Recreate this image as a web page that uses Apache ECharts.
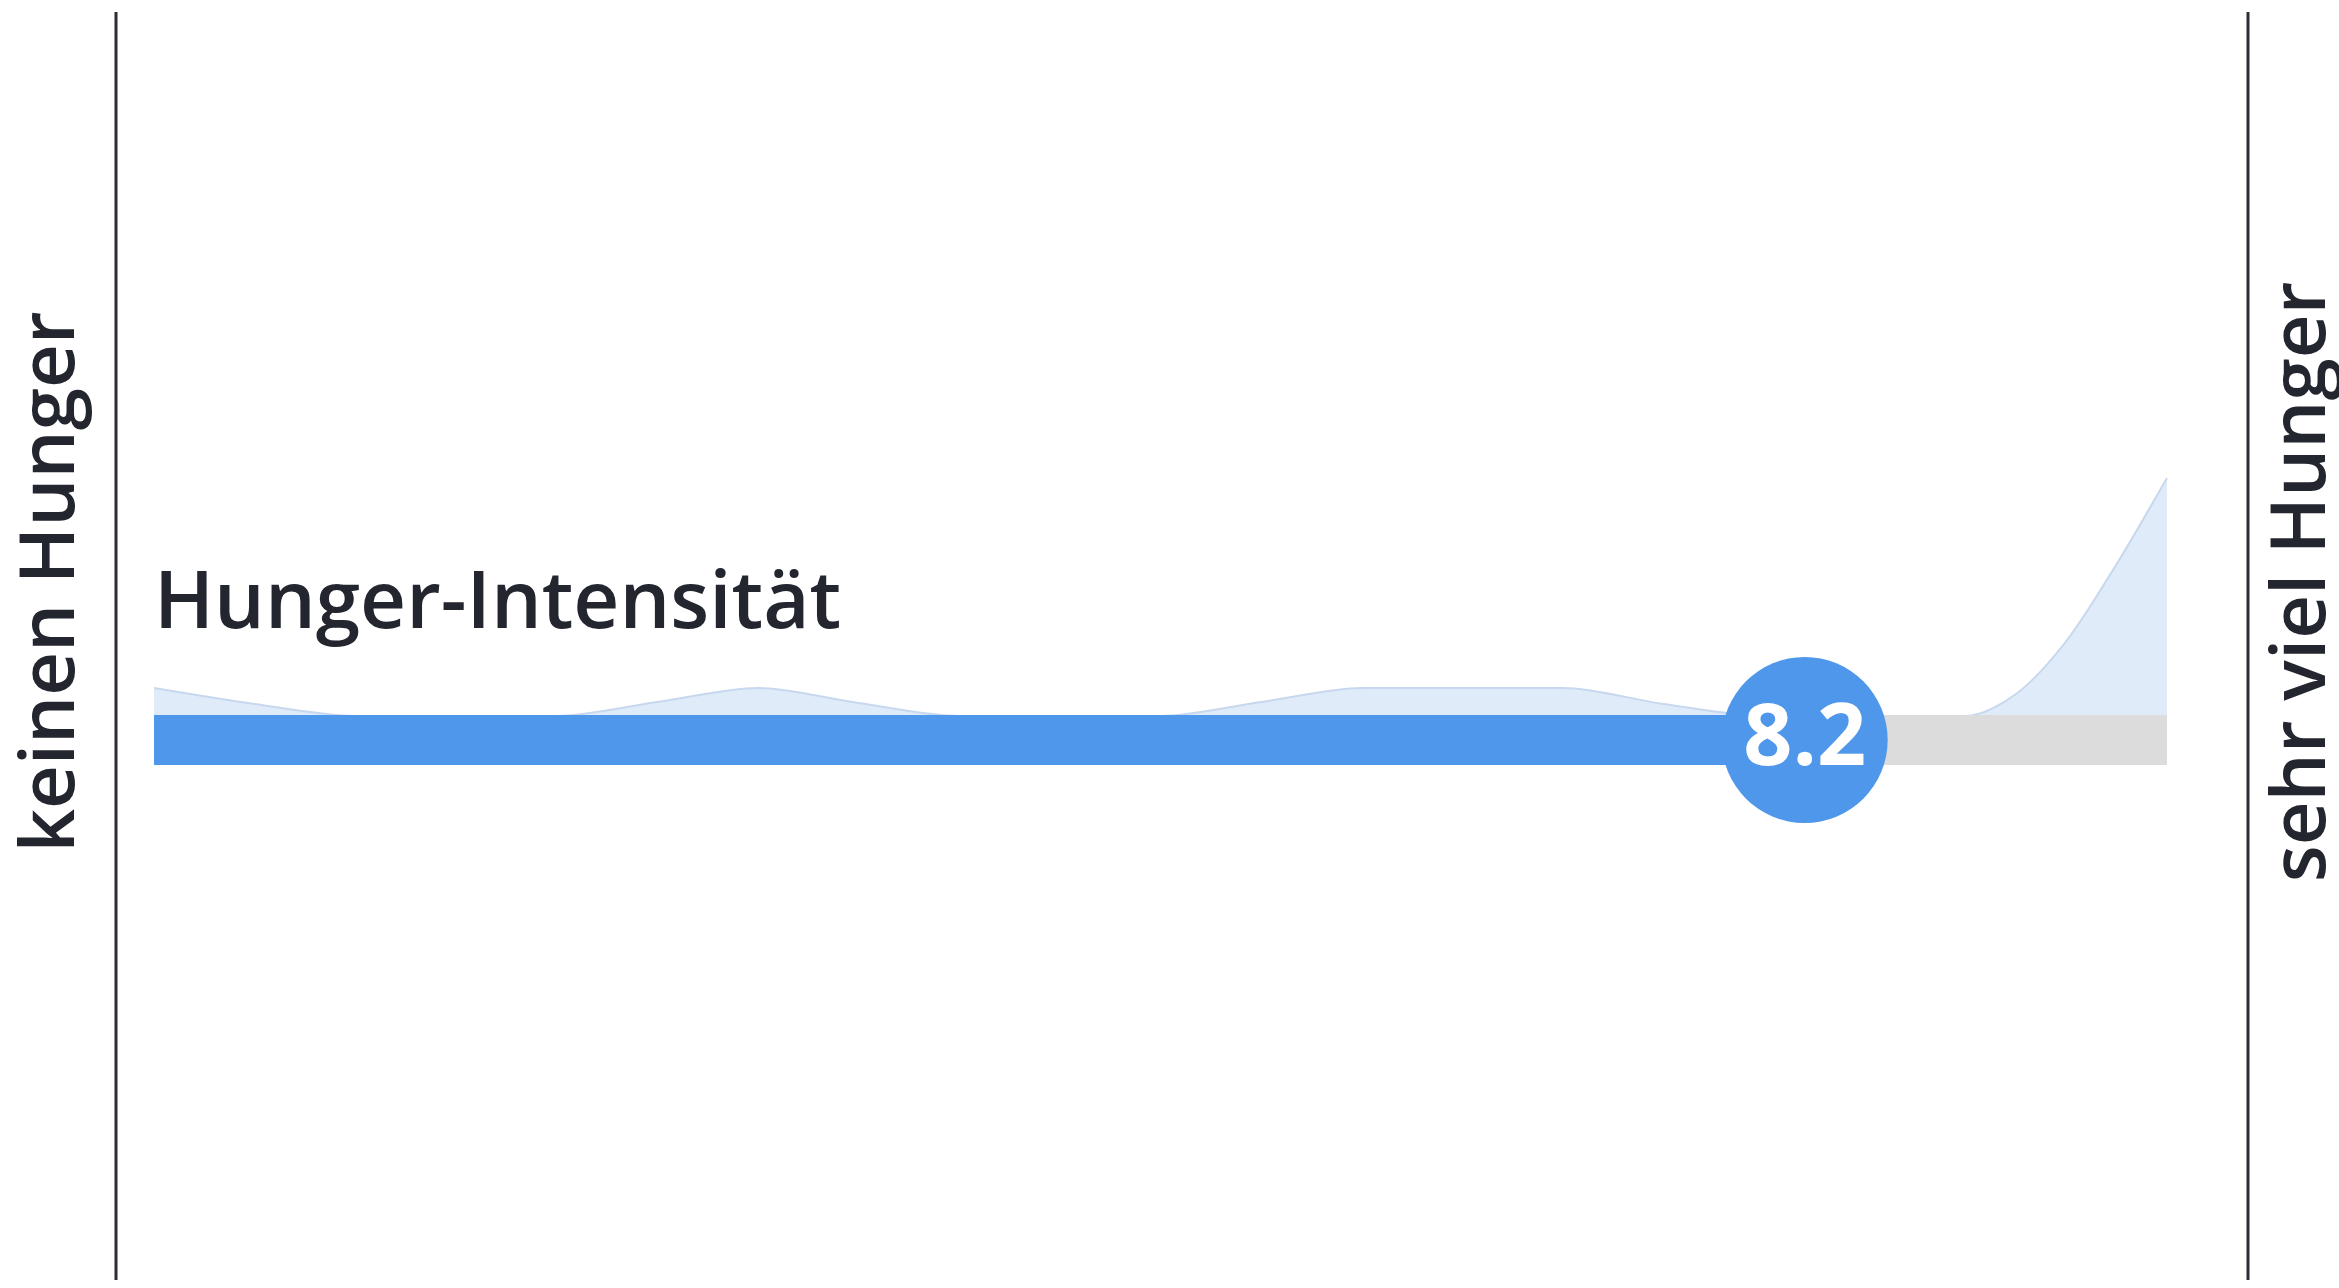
<!DOCTYPE html>
<html>
<head>
<meta charset="utf-8">
<script src="https://cdn.jsdelivr.net/npm/echarts@6/dist/echarts.min.js"></script>
<style>
html,body{margin:0;padding:0;background:#ffffff;}
#chart{width:2339px;height:1288px;}
</style>
</head>
<body>
<div id="chart"></div>
<script>
// Data
const scaleMin = 0;
const scaleMax = 10;
const scoreValue = 8.2;
const titleText = 'Hunger-Intensität';
const leftLabel = 'keinen Hunger';
const rightLabel = 'sehr viel Hunger';
// distribution of responses (relative frequency) along the 0–10 scale
const distX = [0, 0.5, 1, 1.5, 2, 2.5, 3, 3.5, 4, 4.5, 5, 5.5, 6, 6.5, 7, 7.5, 8, 8.5, 9, 9.25, 9.5, 9.75, 10];
const distY = [2.8, 1.2, 0, 0, 0, 1.4, 2.8, 1.3, 0, 0, 0, 1.4, 2.8, 2.8, 2.8, 1.2, 0, 0, 0, 2.2, 7.5, 15.2, 23.8];

const FONT = '"Open Sans", Lato, sans-serif';
const TEXT_COLOR = '#23262f';
const BLUE = '#4e97ea';

const chart = echarts.init(document.getElementById('chart'), null, {renderer: 'canvas'});

const distData = distX.map((x, i) => [x, distY[i]]);

const option = {
  backgroundColor: '#ffffff',
  animation: false,
  grid: [
    {left: 154, right: 172, top: 476, height: 240},
    {left: 154, right: 172, top: 715, height: 50}
  ],
  xAxis: [
    {gridIndex: 0, type: 'value', min: scaleMin, max: scaleMax, show: false},
    {gridIndex: 1, type: 'value', min: scaleMin, max: scaleMax, show: false}
  ],
  yAxis: [
    {gridIndex: 0, type: 'value', min: 0, max: 24, show: false},
    {gridIndex: 1, type: 'category', data: ['score'], show: false}
  ],
  series: [
    {
      type: 'line',
      xAxisIndex: 0, yAxisIndex: 0,
      data: distData,
      smooth: 0.3,
      symbol: 'none',
      lineStyle: {color: '#c7d8ee', width: 2},
      areaStyle: {color: '#e0ebfa', opacity: 1},
      z: 1
    },
    {
      type: 'bar',
      xAxisIndex: 1, yAxisIndex: 1,
      stack: 'score',
      data: [scoreValue],
      barWidth: 50,
      itemStyle: {color: BLUE},
      z: 2
    },
    {
      type: 'bar',
      xAxisIndex: 1, yAxisIndex: 1,
      stack: 'score',
      data: [scaleMax - scoreValue],
      barWidth: 50,
      itemStyle: {color: '#dcdcdc'},
      z: 2
    },
    {
      type: 'scatter',
      xAxisIndex: 1, yAxisIndex: 1,
      data: [[scoreValue, 0]],
      symbol: 'circle',
      symbolSize: 166,
      itemStyle: {color: BLUE, opacity: 1},
      label: {
        show: true,
        position: 'inside',
        formatter: String(scoreValue),
        color: '#ffffff',
        fontFamily: FONT,
        fontWeight: 700,
        fontSize: 86
      },
      z: 5
    }
  ],
  graphic: [
    {type: 'line', shape: {x1: 116, y1: 12, x2: 116, y2: 1280}, style: {stroke: '#2b2e36', lineWidth: 3}},
    {type: 'line', shape: {x1: 2248, y1: 12, x2: 2248, y2: 1280}, style: {stroke: '#2b2e36', lineWidth: 3}},
    {type: 'text', x: 154, y: 605, style: {text: titleText, font: '600 80px ' + FONT, fill: TEXT_COLOR, align: 'left', verticalAlign: 'middle'}},
    {type: 'text', x: 52, y: 582, rotation: Math.PI / 2, style: {text: leftLabel, font: '600 76px ' + FONT, fill: TEXT_COLOR, align: 'center', verticalAlign: 'middle'}},
    {type: 'text', x: 2303, y: 582, rotation: Math.PI / 2, style: {text: rightLabel, font: '600 76px ' + FONT, fill: TEXT_COLOR, align: 'center', verticalAlign: 'middle'}}
  ]
};
chart.setOption(option);
</script>
</body>
</html>
